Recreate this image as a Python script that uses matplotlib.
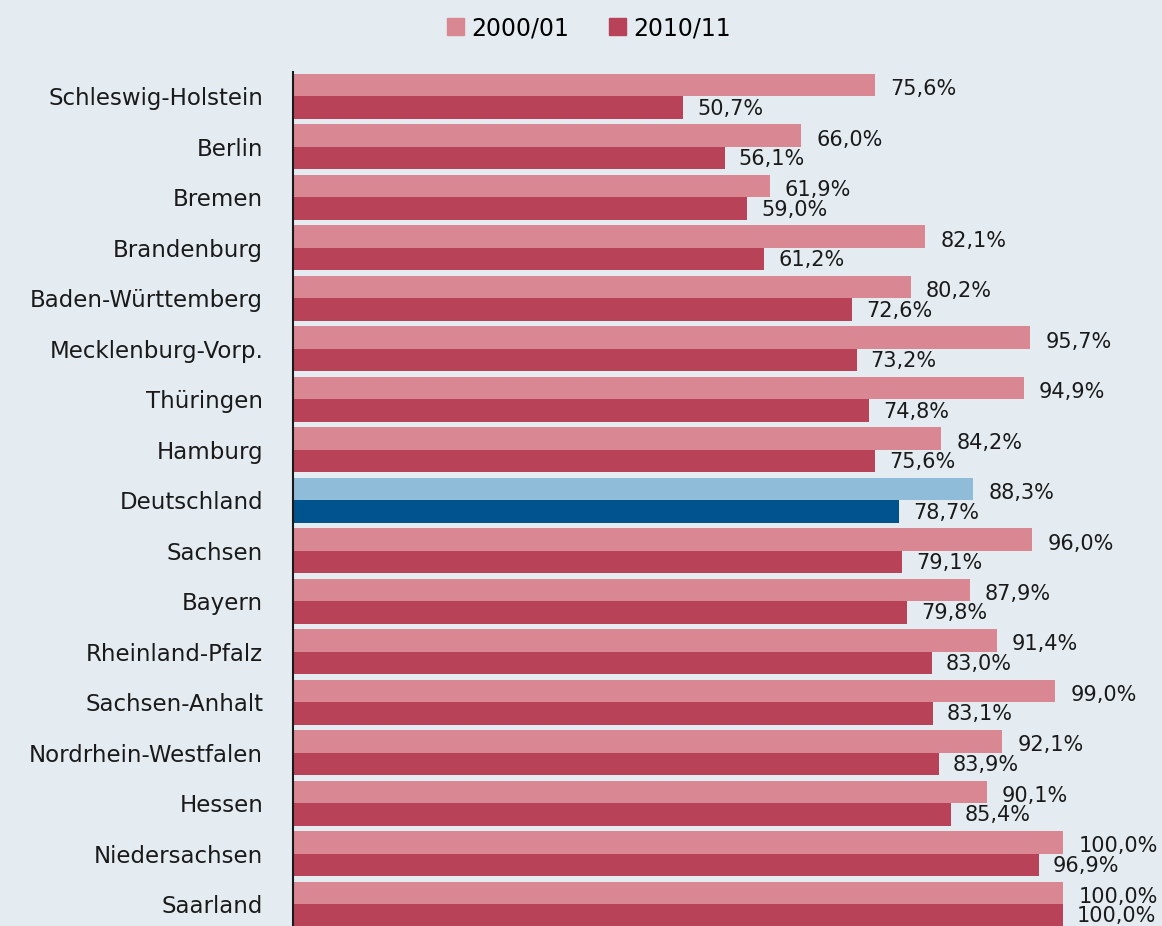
import matplotlib
matplotlib.use("Agg")
import matplotlib.pyplot as plt
from matplotlib.patches import Patch

categories = ["Schleswig-Holstein", "Berlin", "Bremen", "Brandenburg", "Baden-Württemberg",
              "Mecklenburg-Vorp.", "Thüringen", "Hamburg", "Deutschland", "Sachsen", "Bayern",
              "Rheinland-Pfalz", "Sachsen-Anhalt", "Nordrhein-Westfalen", "Hessen",
              "Niedersachsen", "Saarland"]
v2000 = [75.6, 66.0, 61.9, 82.1, 80.2, 95.7, 94.9, 84.2, 88.3, 96.0, 87.9, 91.4, 99.0, 92.1, 90.1, 100.0, 100.0]
v2010 = [50.7, 56.1, 59.0, 61.2, 72.6, 73.2, 74.8, 75.6, 78.7, 79.1, 79.8, 83.0, 83.1, 83.9, 85.4, 96.9, 100.0]
series_labels = ["2000/01", "2010/11"]

BG = "#e4ecf2"
C_LIGHT = "#d88793"
C_DARK = "#b84257"
C_LIGHT_DE = "#8fbcd8"
C_DARK_DE = "#00548e"
TXT = "#1a1a1a"

plt.rcParams['font.family'] = ['DejaVu Sans']

W, H = 1162, 926
fig = plt.figure(figsize=(W / 100, H / 100), dpi=100, facecolor=BG)
left_px, right_px = 293, 1063
top_px, bot_px = 72, 926
ax = fig.add_axes([left_px / W, 1 - bot_px / H, (right_px - left_px) / W, (bot_px - top_px) / H])
ax.set_facecolor(BG)

pitch = 50.47
c0 = 96.5
ax.set_xlim(0, 100)
ax.set_ylim((bot_px - c0) / pitch, (top_px - c0) / pitch)

bh = 0.446
ys = list(range(len(categories)))
cl = [C_LIGHT_DE if c == "Deutschland" else C_LIGHT for c in categories]
cd = [C_DARK_DE if c == "Deutschland" else C_DARK for c in categories]
ax.barh([y - bh / 2 for y in ys], v2000, height=bh, color=cl, clip_on=False)
ax.barh([y + bh / 2 for y in ys], v2010, height=bh, color=cd, clip_on=False)

def fmt(v):
    return f"{v:.1f}%".replace(".", ",")

for y, a, b in zip(ys, v2000, v2010):
    ax.annotate(fmt(a), (a, y - bh / 2 + 0.08), xytext=(11, 0), textcoords="offset points",
                ha="left", va="center", fontsize=15, color=TXT, annotation_clip=False)
    ax.annotate(fmt(b), (b, y + bh / 2 + 0.02), xytext=(10, 0), textcoords="offset points",
                ha="left", va="center", fontsize=15, color=TXT, annotation_clip=False)

ax.set_yticks(ys)
ax.set_yticklabels(categories, fontsize=16.5, color=TXT)
ax.tick_params(axis="y", length=0, pad=21.5)
ax.set_xticks([])
for s in ["top", "right", "bottom"]:
    ax.spines[s].set_visible(False)
ax.spines["left"].set_color(TXT)
ax.spines["left"].set_linewidth(1.5)

handles = [Patch(color=C_LIGHT), Patch(color=C_DARK)]
fig.legend(handles, series_labels, loc="center", bbox_to_anchor=(589 / W, 1 - 28 / H), ncol=2,
           frameon=False, fontsize=17, handlelength=0.72, handleheight=0.72, handletextpad=0.3,
           columnspacing=1.7)

fig.savefig("out.png", dpi=100, facecolor=BG)
